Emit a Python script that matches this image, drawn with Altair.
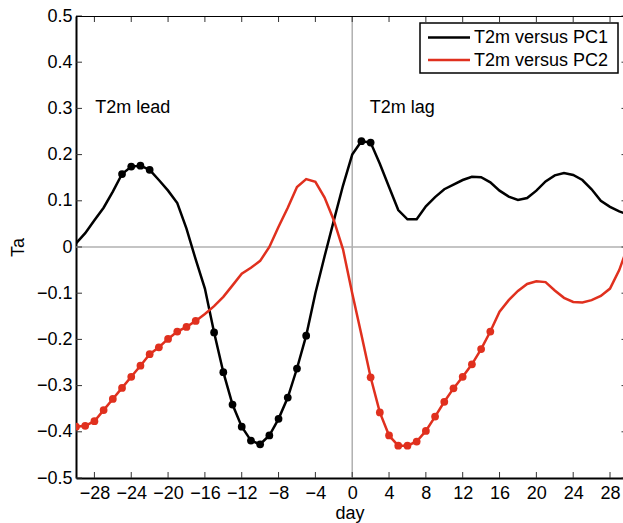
import altair as alt
import pandas as pd

days = list(range(-30, 31))
pc1 = [0.008, 0.03, 0.058, 0.085, 0.12, 0.158, 0.174, 0.176, 0.167, 0.145,
       0.122, 0.095, 0.04, -0.027, -0.09, -0.185, -0.271, -0.341, -0.389, -0.419,
       -0.427, -0.408, -0.372, -0.326, -0.263, -0.192, -0.1, -0.02, 0.057, 0.133,
       0.2, 0.229, 0.226, 0.18, 0.13, 0.08, 0.06, 0.06, 0.088, 0.108,
       0.125, 0.135, 0.145, 0.152, 0.151, 0.14, 0.122, 0.109, 0.102, 0.106,
       0.122, 0.142, 0.155, 0.16, 0.156, 0.145, 0.125, 0.1, 0.087, 0.077, 0.07]
pc2 = [-0.389, -0.387, -0.377, -0.353, -0.329, -0.305, -0.281, -0.257, -0.232, -0.217,
       -0.199, -0.183, -0.173, -0.160, -0.145, -0.128, -0.108, -0.083, -0.058, -0.045,
       -0.03, 0.0, 0.044, 0.085, 0.13, 0.147, 0.141, 0.107, 0.058, -0.005,
       -0.1, -0.19, -0.282, -0.358, -0.408, -0.430, -0.430, -0.421, -0.398, -0.367,
       -0.335, -0.306, -0.281, -0.254, -0.221, -0.183, -0.14, -0.115, -0.095, -0.08,
       -0.074, -0.076, -0.094, -0.11, -0.119, -0.12, -0.115, -0.106, -0.09, -0.05, 0.005]
pc1_sig = [-25, -24, -23, -22, -15, -14, -13, -12, -11, -10, -9, -8, -7, -6, -5, 1, 2]
pc2_sig = list(range(-30, -16)) + list(range(2, 16))

s1 = "T2m versus PC1"
s2 = "T2m versus PC2"
x_ticks = list(range(-28, 29, 4))
y_ticks = [-0.5, -0.4, -0.3, -0.2, -0.1, 0.0, 0.1, 0.2, 0.3, 0.4, 0.5]
notes = ["T2m lead", "T2m lag"]
note_x = [-27.9, 1.9]
note_y = [0.3, 0.3]

FONT = "Liberation Sans"
FS = 18
W, H = 547, 462
RED = "#e0301e"

df = pd.DataFrame({
    "day": days * 2,
    "Ta": pc1 + pc2,
    "series": [s1] * len(days) + [s2] * len(days),
    "sig": [d in pc1_sig for d in days] + [d in pc2_sig for d in days],
})

xs = alt.Scale(domain=[-30, 29.41], nice=False, zero=False)
ys = alt.Scale(domain=[-0.5, 0.5], nice=False, zero=False)

xaxis = alt.Axis(values=x_ticks, ticks=False, grid=False, domainColor="black",
                 domainWidth=2, labelFont=FONT, labelFontSize=FS, labelColor="black",
                 labelPadding=6, title="day", titleFont=FONT, titleFontSize=FS,
                 titleFontWeight="normal", titleColor="black", titlePadding=2,
                 labelFlush=False, labelOverlap=False)
yaxis = alt.Axis(values=y_ticks, ticks=False, grid=False, domainColor="black",
                 domainWidth=2, labelFont=FONT, labelFontSize=FS, labelColor="black",
                 labelPadding=4, format=".1~f", title="Ta", titleFont=FONT,
                 titleFontSize=FS, titleFontWeight="normal", titleColor="black",
                 titleX=-58, titleY=231, titleAngle=270, titleAlign="center",
                 titleBaseline="middle", labelFlush=False, labelOverlap=False)

X = lambda f: alt.X(f, scale=xs, axis=xaxis)
Y = lambda f: alt.Y(f, scale=ys, axis=yaxis)

zero_df = pd.DataFrame({"v": [0.0]})
hline = alt.Chart(zero_df).mark_rule(color="#b0b0b0", strokeWidth=1.5).encode(y=Y("v:Q"))
vline = alt.Chart(zero_df).mark_rule(color="#b0b0b0", strokeWidth=1.5).encode(x=X("v:Q"))

base = alt.Chart(df)
lines = base.mark_line(strokeWidth=2.5, clip=True).encode(
    x=X("day:Q"), y=Y("Ta:Q"),
    color=alt.Color("series:N", scale=alt.Scale(domain=[s1, s2], range=["black", RED]),
                    legend=None),
)
pts1 = base.transform_filter(
    (alt.datum.series == s1) & alt.datum.sig).mark_circle(
    color="black", size=60, opacity=1, clip=True).encode(x=X("day:Q"), y=Y("Ta:Q"))
pts2 = base.transform_filter(
    (alt.datum.series == s2) & alt.datum.sig).mark_circle(
    color=RED, size=60, opacity=1, clip=True).encode(x=X("day:Q"), y=Y("Ta:Q"))

note_df = pd.DataFrame({"t": notes, "x": note_x, "y": note_y})
texts = alt.Chart(note_df).mark_text(align="left", baseline="middle", font=FONT,
                                     fontSize=FS, color="black").encode(
    x=X("x:Q"), y=Y("y:Q"), text="t:N")

xt = pd.DataFrame({"t": x_ticks})
yt = pd.DataFrame({"t": y_ticks})
tick_style = dict(color="#333333", strokeWidth=1)
xb = alt.Chart(xt).mark_rule(**tick_style).encode(
    x=X("t:Q"), y=alt.value(H), y2=alt.value(H - 6))
xtop = alt.Chart(xt).mark_rule(**tick_style).encode(
    x=X("t:Q"), y=alt.value(0), y2=alt.value(6))
yl = alt.Chart(yt).mark_rule(**tick_style).encode(
    y=Y("t:Q"), x=alt.value(0), x2=alt.value(6))
yr = alt.Chart(yt).mark_rule(**tick_style).encode(
    y=Y("t:Q"), x=alt.value(W - 1.5), x2=alt.value(W))
top = alt.Chart(zero_df).mark_rule(color="black", strokeWidth=1).encode(
    x=alt.value(0), x2=alt.value(W), y=alt.value(0.5))

# legend (drawn as decoration inside the plot, top right)
leg_df = pd.DataFrame({"series": [s1, s2]})
leg_box = alt.Chart(zero_df).mark_rect(fill="white", stroke="black", strokeWidth=1.5).encode(
    x=alt.value(344), x2=alt.value(542), y=alt.value(7), y2=alt.value(57))
leg_layers = [leg_box]
for i, (name, col) in enumerate([(s1, "black"), (s2, RED)]):
    yy = 21.5 + 22.5 * i
    leg_layers.append(alt.Chart(zero_df).mark_rule(color=col, strokeWidth=2.5).encode(
        x=alt.value(352), x2=alt.value(394), y=alt.value(yy)))
    leg_layers.append(alt.Chart(leg_df).transform_filter(alt.datum.series == name).mark_text(
        align="left", baseline="middle", font=FONT, fontSize=FS, color="black").encode(
        x=alt.value(398), y=alt.value(yy + 0.5), text="series:N"))

chart = alt.layer(hline, vline, xb, xtop, yl, yr, top, lines, pts1, pts2, texts,
                  *leg_layers).properties(
    width=W, height=H,
    autosize=alt.AutoSizeParams(type="none"),
    padding={"left": 76, "top": 16, "right": 0, "bottom": 45},
).configure_view(stroke=None).configure_axis(labelOverlap=False, labelFlush=False
).configure(background="white")

chart.save("out.html", embed_options={"renderer": "svg", "actions": False})
